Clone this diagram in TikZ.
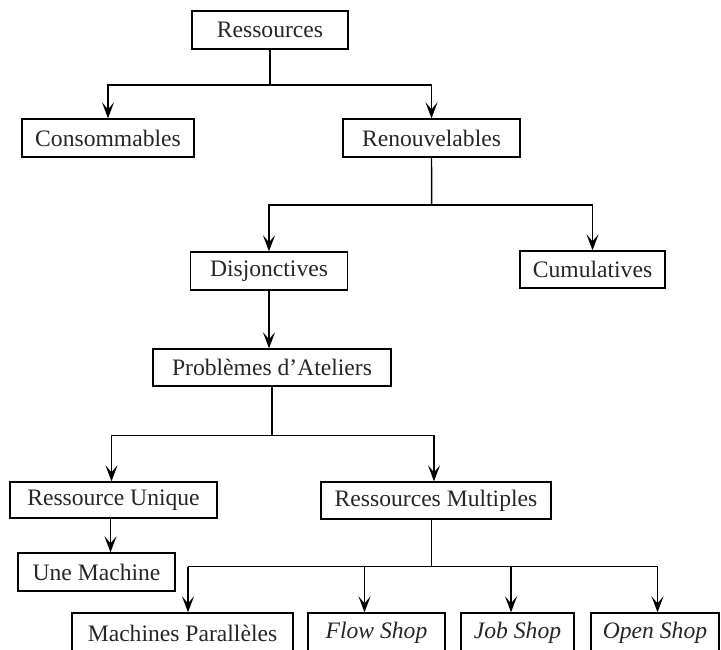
\documentclass[tikz,border=0pt]{standalone}
\usepackage{fontspec}
\setmainfont{Liberation Serif}
\usetikzlibrary{arrows.meta}
\begin{document}
\begin{tikzpicture}[x=0.5pt,y=-0.5pt,
  box/.style={draw, line width=0.7pt, inner sep=0pt, text=black!85,
    font=\fontsize{11.8}{14}\selectfont},
  link/.style={line width=0.7pt},
  arr/.style={link, -{Stealth[length=8pt,width=6pt,inset=3.5pt]}}]
\useasboundingbox (0,0) rectangle (721,649);
\clip (0,0) rectangle (721,649);

% boxes
\node[box, minimum width=78pt, minimum height=19pt] (res) at (270,30) {Ressources};
\node[box, minimum width=86pt, minimum height=19pt] (cons) at (108,138) {Consommables};
\node[box, minimum width=88.5pt, minimum height=19pt] (renv) at (431.5,138) {Renouvelables};
\node[box, minimum width=78.5pt, minimum height=19pt] (disj) at (269,271) {Disjonctives};
\node[box, minimum width=72.5pt, minimum height=18.5pt] (cumu) at (592.5,269.5) {Cumulatives};
\node[box, minimum width=119pt, minimum height=18.5pt] (pb) at (272,367.5) {Problèmes d’Ateliers};
\node[box, minimum width=103.5pt, minimum height=18pt] (ru) at (113.5,500) {Ressource Unique};
\node[box, minimum width=115pt, minimum height=18.5pt] (rm) at (436,500.5) {Ressources Multiples};
\node[box, minimum width=78.5pt, minimum height=19pt] (um) at (96.5,572) {Une Machine};
\node[box, minimum width=110.5pt, minimum height=20pt] (mp) at (182.5,633) {Machines Parallèles};
\node[box, minimum width=68.5pt, minimum height=20pt] (fs) at (376.5,633) {\itshape Flow Shop};
\node[box, minimum width=56.5pt, minimum height=20pt] (js) at (517.5,633) {\itshape Job Shop};
\node[box, minimum width=64pt, minimum height=20pt] (os) at (655,633) {\itshape Open Shop};

% junction points of the tree
\coordinate (j1) at (270,85);
\coordinate (j2) at (431.7,205);
\coordinate (j3) at (272,435.7);
\coordinate (j4) at (431.7,566.7);
\coordinate (d1) at (188,566.7);
\coordinate (d2) at (364.5,566.7);
\coordinate (d3) at (511,566.7);
\coordinate (d4) at (657.5,566.7);

% connectors
\draw[link] (res.south) -- (j1);
\draw[arr] (j1) -| (cons.north);
\draw[arr] (j1) -| (renv.north);

\draw[link] (renv.south) -- (j2);
\draw[arr] (j2) -| (disj.north);
\draw[arr] (j2) -| (cumu.north);

\draw[arr] (disj.south) -- (disj.south |- pb.north);

\draw[link] (pb.south) -- (j3);
\draw[arr] (j3) -| ([xshift=-1pt]ru.north);
\draw[arr] (j3) -| ([xshift=-1pt]rm.north);

\draw[arr] ([xshift=-1.5pt]ru.south) -- ([xshift=-1.5pt]ru.south |- um.north);

\draw[link] (rm.south -| j4) -- (j4);
\draw[link] (d1) -- (d4);
\draw[arr] (d1) -- (d1 |- mp.north);
\draw[arr] (d2) -- (d2 |- fs.north);
\draw[arr] (d3) -- (d3 |- js.north);
\draw[arr] (d4) -- (d4 |- os.north);
\end{tikzpicture}
\end{document}
